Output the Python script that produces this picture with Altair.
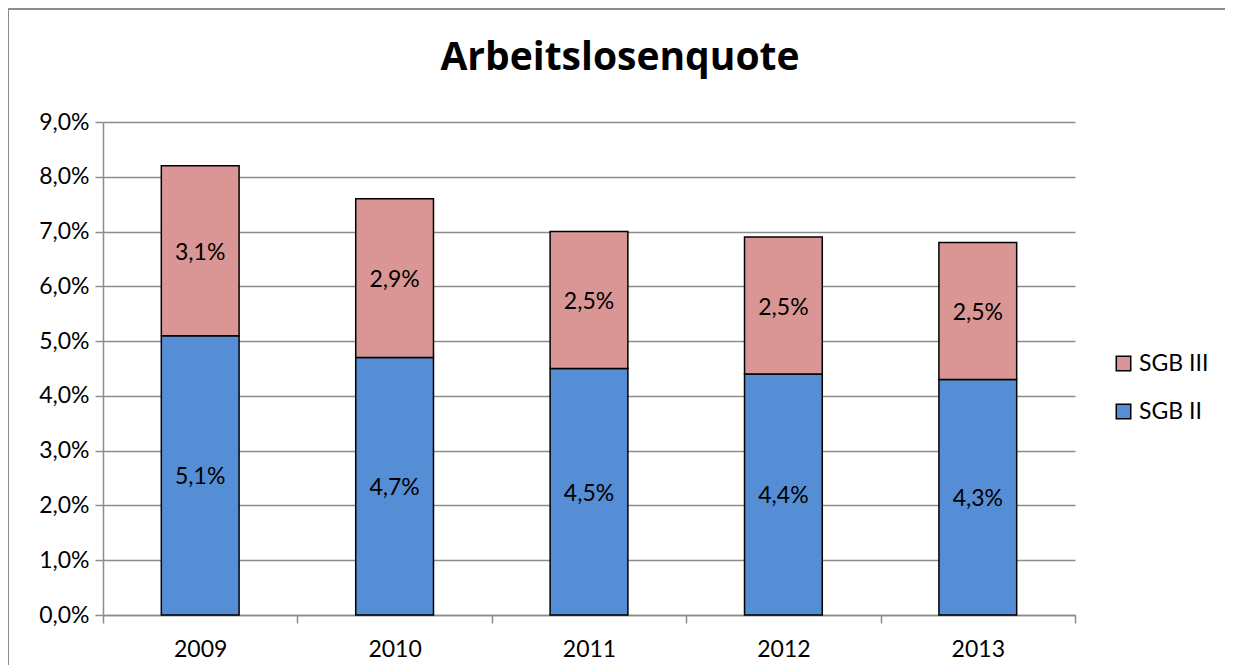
import altair as alt
import pandas as pd

years = ["2009", "2010", "2011", "2012", "2013"]
sgb2 = [5.1, 4.7, 4.5, 4.4, 4.3]
sgb3 = [3.1, 2.9, 2.5, 2.5, 2.5]
series = ["SGB III", "SGB II"]
colors = ["#D99694", "#558ED5"]
y_ticks = [0, 1, 2, 3, 4, 5, 6, 7, 8, 9]
title_text = "Arbeitslosenquote"

rows = []
for i, yr in enumerate(years):
    rows.append({"year": yr, "series": "SGB II", "v": sgb2[i], "ord": 0})
    rows.append({"year": yr, "series": "SGB III", "v": sgb3[i], "ord": 1})
df = pd.DataFrame(rows)

FONT = "Lato"
GRAY = "#8c8c8c"
W, H = 972, 493
FS = 23

base = alt.Chart(df).transform_stack(
    stack="v", groupby=["year"], as_=["v0", "v1"],
    sort=[alt.SortField(field="ord", order="ascending")]
).transform_calculate(
    mid="(datum.v0 + datum.v1) / 2",
    lab="replace(format(datum.v, '.1f'), '.', ',') + '%'"
)

xenc = alt.X(
    "year:N", sort=years,
    scale=alt.Scale(paddingInner=0, paddingOuter=0),
    axis=alt.Axis(title=None, tickBand="extent", labelAngle=0, labelFont=FONT,
                  labelFontSize=FS, labelColor="black", labelPadding=15,
                  domainColor=GRAY, domainWidth=1.5, tickColor=GRAY, tickWidth=1.5,
                  tickSize=8, grid=False),
)
yscale = alt.Scale(domain=[0, 9], nice=False, zero=True)

bars = base.mark_bar(width=alt.RelativeBandSize(0.4), stroke="black", strokeWidth=1.5).encode(
    x=xenc,
    y=alt.Y("v0:Q", scale=yscale, axis=alt.Axis(
        title=None, values=y_ticks,
        labelExpr="replace(format(datum.value, '.1f'), '.', ',') + '%'",
        labelFont=FONT, labelFontSize=FS, labelColor="black", labelPadding=6,
        grid=True, gridColor=GRAY, gridWidth=1.5,
        domainColor=GRAY, domainWidth=1.5, tickColor=GRAY, tickWidth=1.5, tickSize=8)),
    y2="v1:Q",
    color=alt.Color("series:N", scale=alt.Scale(domain=series, range=colors),
                    legend=alt.Legend(title=None, orient="none", legendX=1009, legendY=230,
                                      symbolType="square", symbolSize=210,
                                      symbolStrokeColor="black", symbolStrokeWidth=1.5,
                                      labelFont=FONT, labelFontSize=FS, labelColor="black",
                                      rowPadding=24, labelOffset=4)),
)

text = base.mark_text(font=FONT, fontSize=FS, color="black", dy=2).encode(
    x=alt.X("year:N", sort=years),
    y=alt.Y("mid:Q", scale=yscale),
    text="lab:N",
)

deco = alt.Chart(pd.DataFrame({"t": [title_text]}))

frame = deco.mark_rect(fill=None, stroke=GRAY, strokeWidth=2).encode(
    x=alt.value(-95), x2=alt.value(1200),
    y=alt.value(-113), y2=alt.value(600),
)

title = deco.mark_text(font="Open Sans", fontSize=39, fontWeight="bold", color="black",
                       align="center", baseline="alphabetic").encode(
    x=alt.value(W / 2 + 31), y=alt.value(-52), text="t:N",
)

chart = alt.layer(frame, bars, text, title).properties(
    width=W, height=H,
    autosize=alt.AutoSizeParams(type="none"),
    padding={"left": 95, "top": 114, "right": 150, "bottom": 50},
).configure_view(stroke=None)

chart.save("out.html", embed_options={"renderer": "svg", "actions": False})
